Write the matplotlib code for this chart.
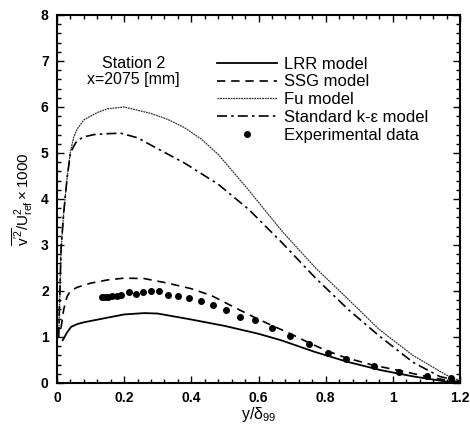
import matplotlib
matplotlib.use("Agg")
import matplotlib.pyplot as plt
from matplotlib.ticker import MultipleLocator, FormatStrFormatter

plt.rcParams["font.family"] = ["Liberation Sans", "DejaVu Sans"]
plt.rcParams["mathtext.fontset"] = "custom"
plt.rcParams["mathtext.rm"] = "Liberation Sans"
plt.rcParams["mathtext.it"] = "Liberation Sans"
plt.rcParams["mathtext.bf"] = "Liberation Sans:bold"

# values
lrr_x = [0.017, 0.03, 0.042, 0.06, 0.08, 0.15, 0.2, 0.26, 0.3, 0.4, 0.5, 0.6,
         0.667, 0.766, 0.865, 0.964, 1.063, 1.16, 1.2]
lrr_y = [0.93, 1.1, 1.22, 1.28, 1.32, 1.42, 1.49, 1.52, 1.51, 1.38, 1.24, 1.07,
         0.93, 0.68, 0.46, 0.28, 0.14, 0.03, 0.02]

ssg_x = [0.012, 0.02, 0.03, 0.04, 0.06, 0.1, 0.15, 0.2, 0.26, 0.33, 0.4, 0.46,
         0.535, 0.59, 0.64, 0.69, 0.74, 0.8, 0.86, 0.94, 1.02, 1.1, 1.16, 1.2]
ssg_y = [1.2, 1.6, 1.88, 2.0, 2.08, 2.17, 2.24, 2.28, 2.27, 2.17, 2.05, 1.9,
         1.62, 1.42, 1.25, 1.09, 0.91, 0.71, 0.55, 0.39, 0.27, 0.14, 0.06, 0.03]

fu_x = [0.005, 0.012, 0.02, 0.03, 0.04, 0.05, 0.06, 0.08, 0.12, 0.15, 0.2, 0.28,
        0.33, 0.38, 0.43, 0.48, 0.57, 0.67, 0.77, 0.87, 0.96, 1.06, 1.16, 1.2]
fu_y = [1.0, 2.9, 3.7, 4.45, 5.03, 5.35, 5.52, 5.72, 5.88, 5.96, 6.0, 5.86,
        5.73, 5.55, 5.3, 4.97, 4.2, 3.3, 2.5, 1.8, 1.16, 0.6, 0.17, 0.05]

ke_x = [0.005, 0.012, 0.02, 0.03, 0.04, 0.05, 0.06, 0.08, 0.11, 0.15, 0.19, 0.24,
        0.28, 0.38, 0.48, 0.57, 0.67, 0.77, 0.87, 0.96, 1.06, 1.14, 1.2]
ke_y = [1.0, 2.9, 3.7, 4.45, 5.0, 5.15, 5.27, 5.35, 5.4, 5.42, 5.43, 5.33,
        5.17, 4.78, 4.32, 3.78, 3.05, 2.28, 1.58, 1.02, 0.45, 0.14, 0.04]

exp_x = [0.133, 0.143, 0.153, 0.163, 0.178, 0.192, 0.215, 0.235, 0.257, 0.28,
         0.305, 0.332, 0.361, 0.394, 0.429, 0.465, 0.502, 0.545, 0.589, 0.639,
         0.693, 0.75, 0.807, 0.86, 0.943, 1.018, 1.102, 1.172]
exp_y = [1.88, 1.88, 1.88, 1.89, 1.9, 1.92, 1.97, 1.93, 1.98, 2.0,
         2.01, 1.92, 1.9, 1.84, 1.78, 1.69, 1.58, 1.44, 1.37, 1.19,
         1.02, 0.85, 0.66, 0.53, 0.38, 0.25, 0.16, 0.11]

fig = plt.figure(figsize=(4.7, 4.3), dpi=100)
ax = fig.add_axes([57 / 470, 47 / 430, 403 / 470, 368 / 430])

ax.plot(lrr_x, lrr_y, "-", color="black", lw=1.3, label="LRR model")
ax.plot(ssg_x, ssg_y, color="black", lw=1.2, ls=(0, (5, 3.5)), label="SSG model")
ax.plot(fu_x, fu_y, color="#333333", lw=0.9, ls=(0, (1.5, 0.6)), label="Fu model")
ax.plot(ke_x, ke_y, color="black", lw=1.2, ls=(0, (6, 2.5, 1.5, 2.5)),
        label="Standard k-\u03b5 model")
ax.plot(exp_x, exp_y, "o", color="black", ms=4, label="Experimental data")

ax.set_xlim(0, 1.2)
ax.set_ylim(0, 8)
ax.xaxis.set_major_locator(MultipleLocator(0.2))
ax.xaxis.set_minor_locator(MultipleLocator(0.04))
ax.yaxis.set_major_locator(MultipleLocator(1))
ax.yaxis.set_minor_locator(MultipleLocator(0.2))
ax.xaxis.set_major_formatter(FormatStrFormatter("%g"))
ax.tick_params(which="both", direction="in", top=True, right=True, width=1)
ax.tick_params(which="major", length=5, labelsize=10, pad=6)
ax.tick_params(which="minor", length=3)
for lab in ax.get_xticklabels() + ax.get_yticklabels():
    lab.set_fontweight("bold")
for sp in ax.spines.values():
    sp.set_linewidth(1.5)

ax.set_xlabel(r"y/$\delta_{99}$", fontsize=11.5, labelpad=0)
ax.set_ylabel(r"$\overline{\mathrm{v}^{\prime 2}}/\mathrm{U}^2_{\mathrm{ref}}\times1000$",
              fontsize=11, labelpad=4)

ax.text(0.19, 0.846, "Station 2\nx=2075 [mm]", transform=ax.transAxes,
        ha="center", va="center", fontsize=11.5, linespacing=1.1)

ax.legend(loc="upper left", bbox_to_anchor=(0.397, 0.887), frameon=False,
          fontsize=12, handlelength=3.6, handletextpad=0.45, labelspacing=0.17,
          borderpad=0, borderaxespad=0, numpoints=1)

fig.savefig("out.png", dpi=100)
